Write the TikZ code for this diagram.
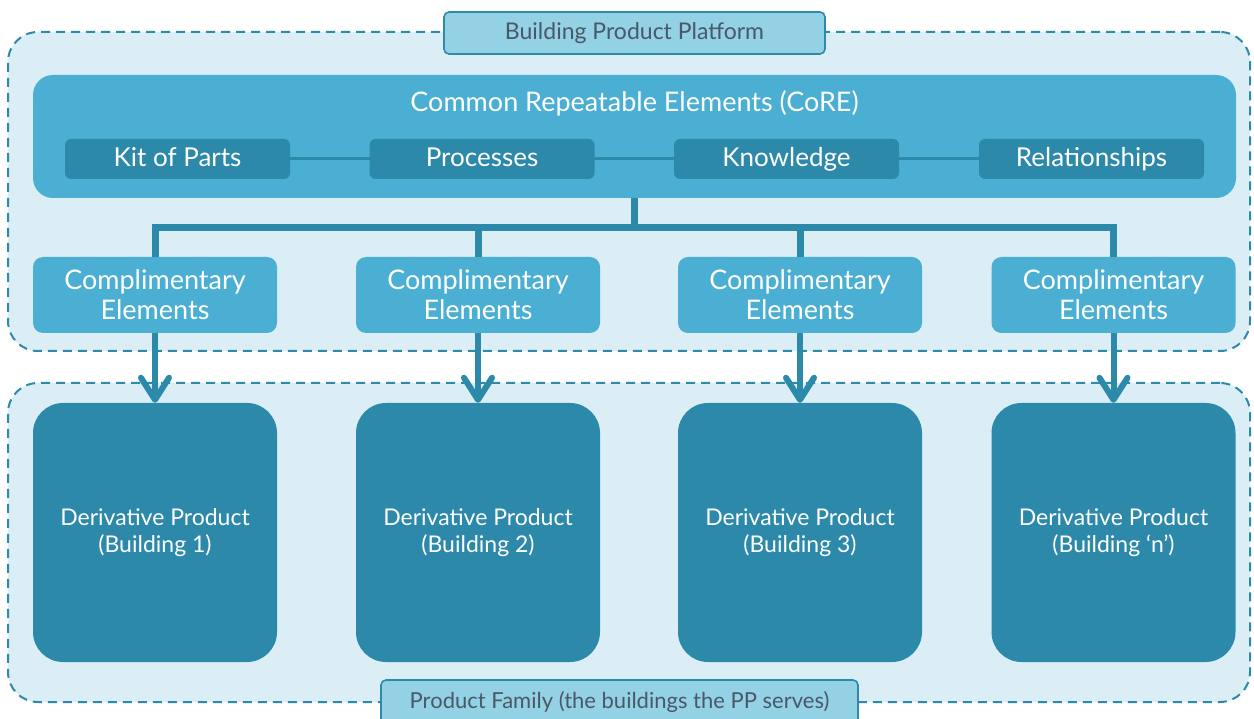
\documentclass[tikz,border=0pt]{standalone}
\usepackage{fontspec}
\setmainfont{Lato}
\usetikzlibrary{arrows.meta}
\definecolor{paleblue}{HTML}{DBEEF6}
\definecolor{dashblue}{HTML}{2E8AAB}
\definecolor{labelfill}{HTML}{93D1E4}
\definecolor{labeltext}{HTML}{4A5868}
\definecolor{midblue}{HTML}{4AAFD3}
\definecolor{darkblue}{HTML}{2C89AA}
\tikzset{
  groupbox/.style={draw=dashblue, fill=paleblue, line width=2pt, dash pattern=on 9pt off 6pt, rounded corners=30pt, minimum width=1242pt, minimum height=319pt, inner sep=0pt},
  grouplabel/.style={draw=dashblue, fill=labelfill, line width=1.6pt, rounded corners=5pt, text=labeltext, font=\fontsize{23}{27}\selectfont, inner sep=0pt, minimum height=42pt, text height=17pt, text depth=4pt},
  corebox/.style={fill=midblue, rounded corners=20pt, minimum width=1203pt, minimum height=123pt, inner sep=0pt},
  partbox/.style={fill=darkblue, rounded corners=6pt, minimum width=225pt, minimum height=40pt, inner sep=0pt, text=white, font=\fontsize{26}{30}\selectfont, text height=19pt, text depth=4pt},
  compbox/.style={fill=midblue, rounded corners=10pt, minimum width=244pt, minimum height=76pt, inner sep=0pt, text=white, align=center, font=\fontsize{27}{30}\selectfont},
  derivbox/.style={fill=darkblue, rounded corners=30pt, minimum width=244pt, minimum height=259pt, inner sep=0pt, text=white, align=center, font=\fontsize{23}{27}\selectfont},
  trunk/.style={draw=darkblue, line width=7pt},
  partlink/.style={draw=darkblue, line width=3pt},
  feed/.style={draw=darkblue, line width=6pt, line join=round, -{Straight Barb[length=22pt,width=28pt,line join=round,line cap=round]}}
}
\begin{document}
\begin{tikzpicture}[x=1pt,y=-1pt]
\useasboundingbox (0,0) rectangle (1254,719);
\fill[white] (0,0) rectangle (1254,719);
% group boxes
\node[groupbox] (platform) at (629,191.5) {};
\node[groupbox] (family) at (629,542.5) {};
\node[grouplabel, minimum width=381pt] (platlabel) at (634.5,33) {Building Product Platform};
\node[grouplabel, minimum width=477pt, minimum height=44pt, font=\fontsize{22}{26}\selectfont, text height=16pt] (famlabel) at (619.5,702) {Product Family (the buildings the PP serves)};
% core
\node[corebox] (core) at (634.5,136.5) {};
\node[text=white, font=\fontsize{27}{30}\selectfont] (coretitle) at (634.5,103.5) {Common Repeatable Elements (CoRE)};
\coordinate (kitc) at (177.5,159);
\coordinate (proc) at (482,159);
\coordinate (knoc) at (786.5,159);
\coordinate (relc) at (1091.5,159);
\draw[partlink] (kitc) -- (relc);
\node[partbox] (kit) at (kitc) {Kit of Parts};
\node[partbox] (proc) at (proc) {Processes};
\node[partbox] (know) at (knoc) {Knowledge};
\node[partbox] (rel) at (relc) {Relationships};
% complementary elements
\node[compbox] (c1) at (155,295) {Complimentary\\Elements};
\node[compbox] (c2) at (478,295) {Complimentary\\Elements};
\node[compbox] (c3) at (800,295) {Complimentary\\Elements};
\node[compbox] (c4) at (1113.5,295) {Complimentary\\Elements};
% derivative products
\node[derivbox] (d1) at (155,532.5) {Derivative Product\\(Building 1)};
\node[derivbox] (d2) at (478,532.5) {Derivative Product\\(Building 2)};
\node[derivbox] (d3) at (800,532.5) {Derivative Product\\(Building 3)};
\node[derivbox] (d4) at (1113.5,532.5) {Derivative Product\\(Building ‘n’)};
% trunk
\coordinate (bus) at (634.5,228);
\draw[trunk] (core.south) -- (bus);
\draw[trunk] (c1.north) |- (bus) -| (c4.north);
\draw[trunk] (c2.north) -- (c2.north |- bus);
\draw[trunk] (c3.north) -- (c3.north |- bus);
% feeds
\draw[feed] (c1.south) -- (d1.north);
\draw[feed] (c2.south) -- (d2.north);
\draw[feed] (c3.south) -- (d3.north);
\draw[feed] (c4.south) -- (d4.north);
\end{tikzpicture}
\end{document}
